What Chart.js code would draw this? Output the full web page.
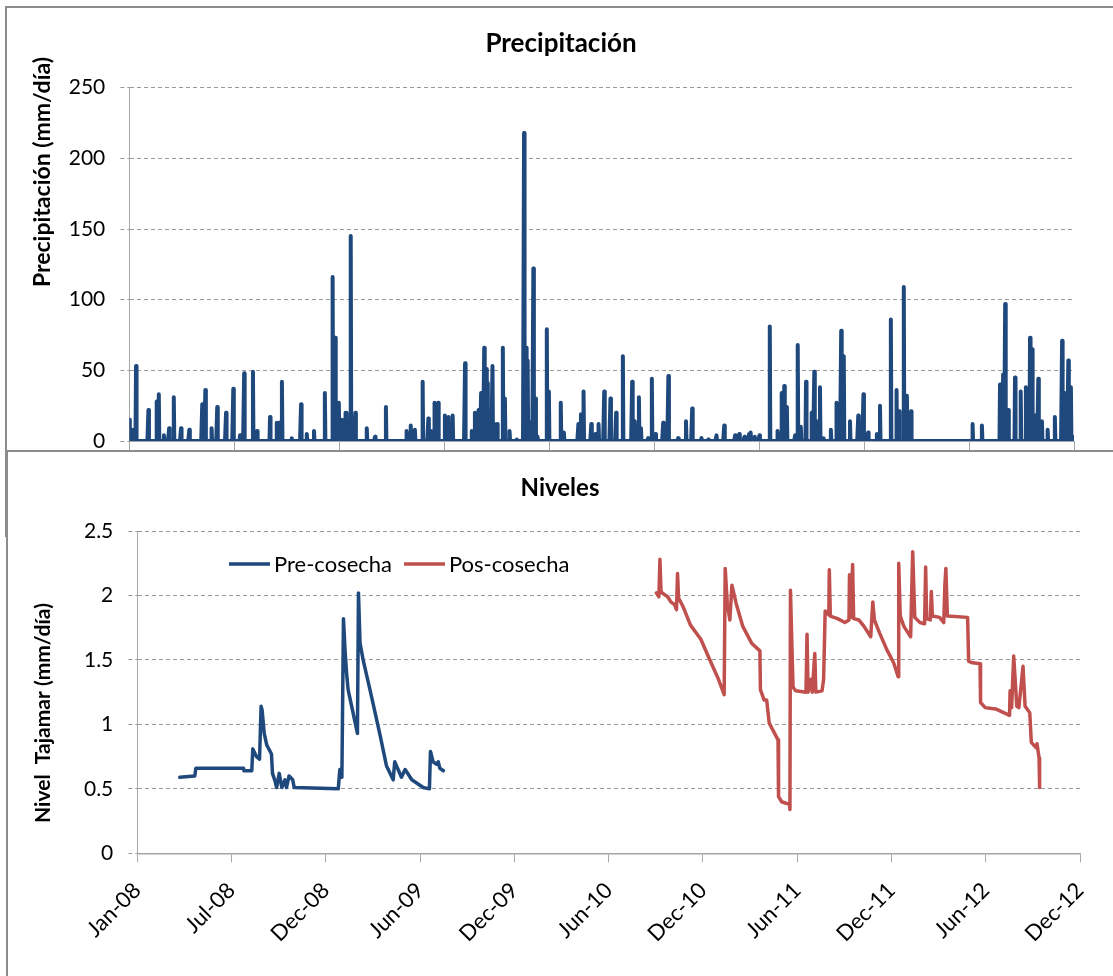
<!DOCTYPE html>
<html>
<head>
<meta charset="utf-8">
<script src="https://cdn.jsdelivr.net/npm/chart.js@4.4.0/dist/chart.umd.min.js"></script>
<style>
html,body{margin:0;padding:0;background:#fff;width:1113px;height:976px;overflow:hidden;position:relative;}
#topPanel{position:absolute;left:5px;top:6px;width:1200px;height:527px;border:2px solid #8c8c8c;background:#fff;}
#topWrap{position:absolute;left:0;top:0;width:1113px;height:452px;}
#botPanel{position:absolute;left:6px;top:450px;width:1200px;height:600px;border-top:2px solid #8c8c8c;border-left:2px solid #8c8c8c;background:#fff;}
#botWrap{position:absolute;left:0;top:452px;width:1113px;height:524px;}
canvas{display:block;}
</style>
</head>
<body>
<div id="topPanel"></div>
<div id="topWrap"><canvas id="cTop" width="1113" height="452"></canvas></div>
<div id="botPanel"></div>
<div id="botWrap"><canvas id="cBot" width="1113" height="524"></canvas></div>
<script>
// ---------------- DATA ----------------
// Precipitation: day offset from 2008-01-01 and rain (mm/día); all other days = 0
const rainDay = [0,7,13,37,53,57,67,77,86,100,116,141,147,159,170,187,201,214,222,239,247,272,285,290,295,314,332,343,357,378,393,398,405,411,418,420,428,437,459,475,496,536,544,552,567,578,583,590,597,610,617,625,649,662,668,675,680,686,690,692,697,702,706,711,722,726,735,749,763,767,770,775,781,785,789,807,811,834,840,868,873,878,893,901,907,918,930,941,954,972,977,985,989,1003,1010,1017,1032,1042,1061,1076,1088,1106,1119,1135,1150,1171,1179,1189,1198,1201,1209,1218,1238,1253,1261,1266,1271,1287,1292,1298,1308,1319,1324,1329,1335,1342,1356,1367,1376,1381,1393,1409,1419,1428,1445,1451,1472,1483,1488,1497,1503,1511,1630,1648,1683,1689,1693,1699,1712,1723,1733,1741,1745,1751,1757,1764,1775,1789,1803,1808,1815,1820,1824];
const rainMm  = [15,8,53,22,28,33,4,9,31,9,8,26,36,9,24,20,37,4,48,49,7,17,13,13,42,2,26,5,7,34,116,73,27,15,20,20,145,20,9,3,24,7,11,8,42,16,7,27,27,18,17,18,55,7,20,22,34,66,51,41,13,53,12,12,66,30,7,1,218,66,57,13,122,30,3,79,35,27,6,12,19,35,12,5,12,35,30,20,60,42,14,31,9,2,44,5,13,46,2,14,23,2,1,4,11,4,5,3,5,6,3,4,81,7,34,39,24,4,68,10,42,20,49,14,38,2,8,27,78,60,14,18,33,6,5,25,86,36,21,109,32,21,12,11,40,47,97,22,45,35,38,73,65,18,44,14,8,17,71,34,57,38,3];
const RAIN_DAYS = 1827;           // 2008-01-01 .. 2012-12-31

// Levels: day offset from 2008-01-01
const preDay   = [82,111,113,205,206,221,223,230,236,239,241,245,250,259,261,266,269,274,279,285,288,293,300,303,388,391,395,398,401,404,407,425,427,430,436,452,469,481,494,497,510,517,530,552,564,566,571,578,581,584,591];
const preLevel = [0.59,0.60,0.66,0.66,0.64,0.64,0.81,0.75,0.73,1.14,1.11,0.93,0.84,0.77,0.62,0.56,0.51,0.62,0.51,0.57,0.51,0.60,0.57,0.51,0.50,0.65,0.59,1.82,1.58,1.40,1.27,0.93,2.02,1.63,1.50,1.22,0.91,0.68,0.57,0.71,0.59,0.65,0.57,0.51,0.50,0.79,0.71,0.69,0.71,0.66,0.64];
const posDay   = [1002,1007,1009,1011,1013,1024,1030,1037,1041,1043,1045,1054,1068,1088,1102,1122,1133,1135,1139,1144,1148,1156,1169,1186,1202,1203,1210,1215,1220,1237,1238,1244,1259,1260,1261,1264,1266,1271,1291,1293,1295,1301,1303,1308,1310,1322,1325,1328,1335,1336,1338,1352,1366,1374,1375,1377,1381,1383,1393,1403,1416,1420,1423,1433,1447,1460,1469,1470,1473,1480,1488,1493,1497,1501,1511,1520,1522,1524,1531,1533,1535,1549,1557,1559,1561,1564,1603,1605,1610,1627,1628,1637,1657,1684,1685,1688,1692,1698,1702,1710,1714,1723,1726,1735,1737,1741,1742];
const posLevel = [2.02,1.99,2.28,2.04,2.02,1.99,1.95,1.93,1.89,2.17,1.98,1.91,1.77,1.66,1.53,1.35,1.23,2.21,1.94,1.81,2.08,1.94,1.76,1.63,1.57,1.27,1.19,1.19,1.01,0.88,0.44,0.40,0.38,0.34,2.04,1.58,1.29,1.26,1.25,1.70,1.25,1.35,1.25,1.55,1.25,1.26,1.35,1.88,1.85,2.20,1.84,1.82,1.79,1.81,2.16,1.83,2.24,1.82,1.81,1.76,1.68,1.95,1.81,1.71,1.58,1.48,1.37,2.25,1.84,1.76,1.71,1.68,2.34,1.83,1.79,1.78,2.22,1.82,1.81,2.03,1.84,1.83,1.79,2.07,2.21,1.84,1.83,1.49,1.48,1.47,1.17,1.13,1.12,1.07,1.26,1.13,1.53,1.14,1.13,1.45,1.14,1.09,0.86,0.82,0.85,0.74,0.51];

const xTickLabels = ['Jan-08','Jul-08','Dec-08','Jun-09','Dec-09','Jun-10','Dec-10','Jun-11','Dec-11','Jun-12','Dec-12'];
const X_TICK_DAYS = 182;
const X_MAX_DAY = 1820;

// ---------------- STYLE ----------------
const FONT = "Lato, 'Open Sans', sans-serif";
const BLUE = '#1F497D';
const RED = '#C0504D';
const GRID = '#9a9a9a';
const AXIS = '#a6a6a6';

// ---------------- build tables ----------------
const rainLookup = new Map(rainDay.map((d, i) => [d, rainMm[i]]));
const rainSeries = [];
for (let d = 0; d < RAIN_DAYS; d++) rainSeries.push({x: d, y: rainLookup.has(d) ? rainLookup.get(d) : 0});
const preSeries = preDay.map((d, i) => ({x: d, y: preLevel[i]}));
const posSeries = posDay.map((d, i) => ({x: d, y: posLevel[i]}));

// ---------------- plugins (text only) ----------------
const textPlugin = {
  id: 'texts',
  afterDraw(chart, args, o) {
    const ctx = chart.ctx;
    ctx.save();
    ctx.fillStyle = '#000';
    ctx.textAlign = 'center';
    ctx.textBaseline = 'middle';
    ctx.font = 'bold ' + o.titleSize + 'px ' + FONT;
    ctx.fillText(o.title, o.titleX, o.titleY);
    ctx.save();
    ctx.translate(o.yX, o.yY);
    ctx.rotate(-Math.PI / 2);
    ctx.font = 'bold ' + o.ySize + 'px ' + FONT;
    ctx.fillText(o.yText, 0, 0);
    ctx.restore();
    if (o.legend) {
      const L = o.legend;
      ctx.font = L.size + 'px ' + FONT;
      ctx.textAlign = 'left';
      let x = L.x;
      chart.data.datasets.forEach(ds => {
        ctx.strokeStyle = ds.borderColor;
        ctx.lineWidth = ds.borderWidth;
        ctx.lineCap = 'butt';
        ctx.beginPath();
        ctx.moveTo(x, L.y);
        ctx.lineTo(x + L.lineLen, L.y);
        ctx.stroke();
        ctx.fillText(ds.label, x + L.lineLen + L.gap, L.y + 1);
        x += L.lineLen + L.gap + ctx.measureText(ds.label).width + L.itemGap;
      });
    }
    ctx.restore();
  }
};

const fixY = w => s => { s.width = w; s.paddingTop = 0; s.paddingBottom = 0; };
const fixX = h => s => { s.height = h; s.paddingLeft = 0; s.paddingRight = 0; };

// ---------------- TOP CHART ----------------
new Chart(document.getElementById('cTop'), {
  type: 'line',
  data: {
    datasets: [{
      label: 'Precipitación',
      data: rainSeries,
      borderColor: BLUE,
      backgroundColor: BLUE,
      borderWidth: 4,
      pointRadius: 0,
      tension: 0,
      fill: false,
      borderJoinStyle: 'round',
      borderCapStyle: 'round'
    }]
  },
  options: {
    responsive: false,
    animation: false,
    events: [],
    layout: {padding: {left: 0, right: 39, top: 87.7, bottom: 0}},
    plugins: {
      legend: {display: false},
      tooltip: {enabled: false},
      title: {display: false},
      texts: {title: 'Precipitación', titleX: 561, titleY: 44, titleSize: 26,
              yText: 'Precipitación (mm/día)', yX: 43, yY: 172, ySize: 23}
    },
    scales: {
      x: {
        type: 'linear', min: 0, max: RAIN_DAYS - 1,
        border: {display: true, color: AXIS, width: 1},
        grid: {display: true, drawOnChartArea: false, drawTicks: true, tickLength: 9, tickColor: AXIS, tickWidth: 1},
        ticks: {display: false, stepSize: 200, includeBounds: false, autoSkip: false},
        afterFit: fixX(11)
      },
      y: {
        min: 0, max: 250,
        border: {display: true, color: AXIS, width: 1, dash: [4, 3]},
        grid: {color: GRID, lineWidth: 1, drawTicks: true, tickLength: 9, tickColor: GRID, tickBorderDash: [4, 3]},
        ticks: {stepSize: 50, color: '#000', padding: 15, font: {family: FONT, size: 21}},
        afterFit: fixY(129.3)
      }
    }
  },
  plugins: [textPlugin]
});

// ---------------- BOTTOM CHART ----------------
new Chart(document.getElementById('cBot'), {
  type: 'line',
  data: {
    datasets: [
      {label: 'Pre-cosecha', data: preSeries, borderColor: BLUE, backgroundColor: BLUE, borderWidth: 3.5, pointRadius: 0, tension: 0, fill: false, borderJoinStyle: 'round', borderCapStyle: 'round'},
      {label: 'Pos-cosecha', data: posSeries, borderColor: RED, backgroundColor: RED, borderWidth: 3.5, pointRadius: 0, tension: 0, fill: false, borderJoinStyle: 'round', borderCapStyle: 'round'}
    ]
  },
  options: {
    responsive: false,
    animation: false,
    events: [],
    layout: {padding: {left: 0, right: 33, top: 79, bottom: 0}},
    plugins: {
      legend: {display: false},
      tooltip: {enabled: false},
      title: {display: false},
      texts: {title: 'Niveles', titleX: 560, titleY: 36, titleSize: 24,
              yText: 'Nivel  Tajamar (mm/día)', yX: 43, yY: 261, ySize: 21,
              legend: {x: 229, y: 112, lineLen: 41, gap: 4, itemGap: 12, size: 22}}
    },
    scales: {
      x: {
        type: 'linear', min: 0, max: X_MAX_DAY,
        border: {display: true, color: AXIS, width: 1.5},
        grid: {display: true, drawOnChartArea: false, drawTicks: true, tickLength: 9, tickColor: AXIS, tickWidth: 1},
        ticks: {
          stepSize: X_TICK_DAYS, includeBounds: false, autoSkip: false,
          maxRotation: 45, minRotation: 45, padding: 15,
          color: '#000', font: {family: FONT, size: 22},
          callback: v => xTickLabels[Math.round(v / X_TICK_DAYS)]
        },
        afterFit: fixX(524 - 401.3)
      },
      y: {
        min: 0, max: 2.5,
        border: {display: true, color: AXIS, width: 1, dash: [4, 3]},
        grid: {color: GRID, lineWidth: 1, drawTicks: true, tickLength: 9, tickColor: GRID, tickBorderDash: [4, 3]},
        ticks: {stepSize: 0.5, color: '#000', padding: 15, font: {family: FONT, size: 21},
                callback: v => String(+v.toFixed(2))},
        afterFit: fixY(137.3)
      }
    }
  },
  plugins: [textPlugin]
});
</script>
</body>
</html>
